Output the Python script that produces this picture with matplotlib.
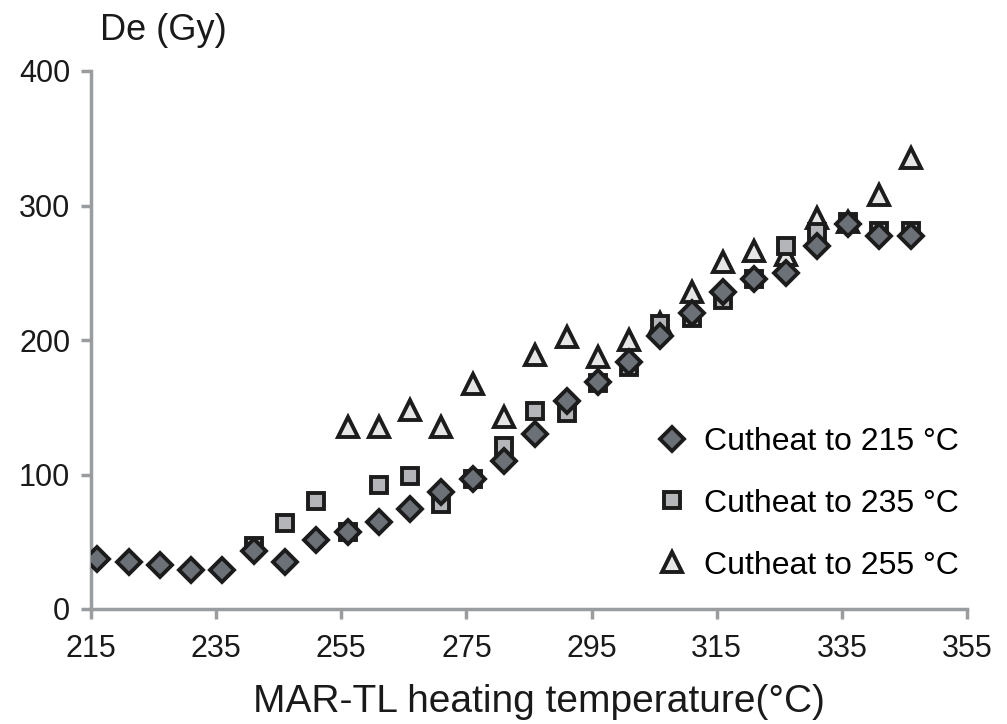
import matplotlib
matplotlib.use("Agg")
import matplotlib.pyplot as plt

plt.rcParams['font.family'] = ['Liberation Sans', 'DejaVu Sans']

temps_215 = [216, 221, 226, 231, 236, 241, 246, 251, 256, 261, 266, 271, 276, 281,
             286, 291, 296, 301, 306, 311, 316, 321, 326, 331, 336, 341, 346]
de_215 = [37, 35, 33, 29, 29, 43, 35, 51, 57, 65, 74, 87, 97, 110,
          130, 155, 169, 184, 203, 220, 236, 245, 250, 270, 286, 277, 277]

temps_235 = [241, 246, 251, 256, 261, 266, 271, 276, 281, 286, 291, 296, 301,
             306, 311, 316, 321, 326, 331, 336, 341, 346]
de_235 = [47, 64, 80, 57, 92, 99, 78, 97, 121, 147, 146, 168, 180,
          212, 216, 230, 245, 270, 280, 288, 281, 281]

temps_255 = [256, 261, 266, 271, 276, 281, 286, 291, 296, 301, 306, 311, 316,
             321, 326, 331, 336, 341, 346]
de_255 = [135, 135, 148, 135, 167, 143, 189, 202, 187, 200, 213, 236, 258,
          266, 263, 291, 288, 308, 335]

labels = ['Cutheat to 215 °C', 'Cutheat to 235 °C', 'Cutheat to 255 °C']
x_ticks = [215, 235, 255, 275, 295, 315, 335, 355]
y_ticks = [0, 100, 200, 300, 400]

fig = plt.figure(figsize=(10.07, 7.24), dpi=100)
ax = fig.add_axes([91/1007, 1 - 609/724, (967-91)/1007, (609-71)/724])

edge = '#1c1c1c'
ax.plot(temps_255, de_255, linestyle='none', marker='^', markersize=15,
        markerfacecolor='#e6e6e6', markeredgecolor=edge, markeredgewidth=2.8,
        label=labels[2], zorder=3)
ax.plot(temps_235, de_235, linestyle='none', marker='s', markersize=12,
        markerfacecolor='#b3b5b9', markeredgecolor=edge, markeredgewidth=2.8,
        label=labels[1], zorder=4)
ax.plot(temps_215, de_215, linestyle='none', marker='D', markersize=12,
        markerfacecolor='#6b7177', markeredgecolor=edge, markeredgewidth=2.8,
        label=labels[0], zorder=5)

ax.set_xlim(215, 355)
ax.set_ylim(0, 400)
ax.set_xticks(x_ticks)
ax.set_yticks(y_ticks)
for s in ['top', 'right']:
    ax.spines[s].set_visible(False)
for s in ['left', 'bottom']:
    ax.spines[s].set_color('#9a9da0')
    ax.spines[s].set_linewidth(2.5)
ax.tick_params(axis='both', direction='out', length=7, width=2.5, color='#9a9da0',
               labelsize=22, labelcolor='#1a1a1a')
ax.tick_params(axis='x', pad=11)
ax.tick_params(axis='y', pad=8)

fig.text(539/1007, 1 - 712/724, 'MAR-TL heating temperature(°C)', fontsize=28,
         color='#1a1a1a', ha='center', va='baseline')
fig.text(100/1007, 1 - 40/724, 'De (Gy)', fontsize=26, color='#1a1a1a',
         va='baseline', ha='left')

handles, labs = ax.get_legend_handles_labels()
order = [2, 1, 0]
ax.legend([handles[i] for i in order], [labs[i] for i in order], frameon=False,
          loc='lower left', bbox_to_anchor=(0.630, 0.029), fontsize=23,
          handletextpad=0.5, labelspacing=1.0, handlelength=1.0, borderaxespad=0)

fig.savefig('out.png', dpi=100)
